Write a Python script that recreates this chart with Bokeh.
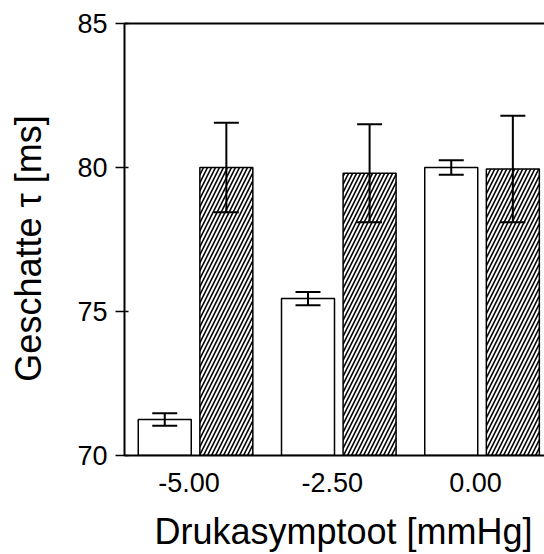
from bokeh.plotting import figure
from bokeh.models import (ColumnDataSource, Whisker, TeeHead, FixedTicker,
                          LinearAxis, Range1d)
from bokeh.transform import dodge
from bokeh.embed import file_html
from bokeh.resources import INLINE

# Pressure asymptote groups and estimated time constants (mean ± error)
categories = ["-5.00", "-2.50", "0.00"]
open_means = [71.25, 75.45, 80.0]
open_errs = [0.22, 0.23, 0.25]
hatched_means = [80.0, 79.8, 79.95]
hatched_errs = [1.55, 1.7, 1.85]
y_ticks = [70, 75, 80, 85]
x_title = "Drukasymptoot [mmHg]"
y_title = "Geschatte τ [ms]"

FONT = "Liberation Sans"
OFFSET = 0.215
BAR_W = 0.37
LABEL_SHIFT = 0.045
PAD = "\u2002"  # en space: nudges a centred axis title along its axis

positions = list(range(len(categories)))
src = ColumnDataSource(data=dict(
    x=positions,
    open_mean=open_means,
    open_lo=[m - e for m, e in zip(open_means, open_errs)],
    open_hi=[m + e for m, e in zip(open_means, open_errs)],
    hat_mean=hatched_means,
    hat_lo=[m - e for m, e in zip(hatched_means, hatched_errs)],
    hat_hi=[m + e for m, e in zip(hatched_means, hatched_errs)],
))

p = figure(width=544, height=554, output_backend="svg", toolbar_location=None,
           x_range=Range1d(-0.496, 2.436), y_range=Range1d(y_ticks[0], y_ticks[-1]),
           min_border_left=124, min_border_right=0, min_border_top=23,
           min_border_bottom=99)
p.outline_line_color = None
p.xgrid.visible = False
p.ygrid.visible = False
p.background_fill_color = "white"
p.border_fill_color = "white"

# open bars
p.vbar(x=dodge("x", -OFFSET), top="open_mean", bottom=0, width=BAR_W, source=src,
       fill_color="white", line_color="black", line_width=1.5)
# hatched bars
p.vbar(x=dodge("x", OFFSET), top="hat_mean", bottom=0, width=BAR_W, source=src,
       fill_color="white", line_color="black", line_width=1.5,
       hatch_pattern="/", hatch_color="black", hatch_scale=8.0, hatch_weight=1.6)

for base_field, lo, hi in ((dodge("x", -OFFSET), "open_lo", "open_hi"),
                           (dodge("x", OFFSET), "hat_lo", "hat_hi")):
    w = Whisker(base=base_field, lower=lo, upper=hi, source=src, level="overlay",
                line_color="black", line_width=2,
                upper_head=TeeHead(size=25, line_color="black", line_width=2),
                lower_head=TeeHead(size=25, line_color="black", line_width=2))
    p.add_layout(w)

# x axis
xa = p.xaxis[0]
tick_pos = [i - LABEL_SHIFT for i in positions]
xa.ticker = FixedTicker(ticks=tick_pos)
xa.major_label_overrides = {t: c for t, c in zip(tick_pos, categories)}
xa.major_tick_line_color = None
xa.major_tick_out = 0
xa.major_tick_in = 0
xa.minor_tick_line_color = None
xa.axis_line_width = 2
xa.axis_line_color = "black"
xa.major_label_text_font = FONT
xa.major_label_text_font_size = "27px"
xa.major_label_text_color = "black"
xa.major_label_standoff = 17
xa.axis_label = PAD + x_title
xa.axis_label_text_font = FONT
xa.axis_label_text_font_size = "36px"
xa.axis_label_text_font_style = "normal"
xa.axis_label_text_color = "black"
xa.axis_label_standoff = 16

# y axis
ya = p.yaxis[0]
ya.ticker = FixedTicker(ticks=y_ticks)
ya.major_tick_in = 4
ya.major_tick_out = 9
ya.major_tick_line_width = 1.5
ya.major_tick_line_color = "black"
ya.minor_tick_line_color = None
ya.axis_line_width = 2
ya.axis_line_color = "black"
ya.major_label_text_font = FONT
ya.major_label_text_font_size = "27px"
ya.major_label_text_color = "black"
ya.major_label_standoff = 8
ya.axis_label = y_title + PAD
ya.axis_label_text_font = FONT
ya.axis_label_text_font_size = "36px"
ya.axis_label_text_font_style = "normal"
ya.axis_label_text_color = "black"
ya.axis_label_standoff = 25

# top border line
top = LinearAxis(ticker=FixedTicker(ticks=[]), axis_line_width=2,
                 axis_line_color="black", major_tick_line_color=None,
                 minor_tick_line_color=None, major_label_text_font_size="1px")
p.add_layout(top, "above")

open("out.html", "w").write(file_html(p, INLINE))
